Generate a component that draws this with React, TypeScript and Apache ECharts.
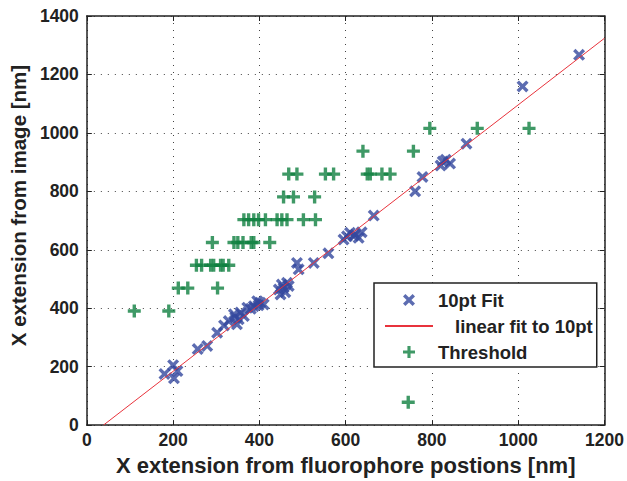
import React, { useEffect, useRef } from "react";
import * as echarts from "echarts";

// ---- Data ----
const seriesNames = ["10pt Fit", "linear fit to 10pt", "Threshold"];

// 10pt Fit (blue x markers)
const fitPtsX = [
  180, 200, 210, 202,
  257, 279,
  302, 318, 329,
  341, 344, 348, 356, 364, 352,
  372, 380, 387, 395, 402, 410, 398,
  445, 449, 452, 456, 464, 468, 460,
  487, 491,
  526, 560,
  595, 603, 610, 618, 622, 630, 637,
  665,
  761, 778,
  820, 825, 832, 842,
  880, 1010, 1141,
];
const fitPtsY = [
  175, 205, 185, 160,
  260, 271,
  316, 341, 356,
  379, 369, 345, 385, 373, 362,
  402, 398, 407, 424, 419, 413, 410,
  464, 447, 481, 470, 487, 476, 455,
  555, 533,
  555, 588,
  635, 646, 658, 648, 652, 641, 660,
  717,
  800, 849,
  888, 902, 908, 895,
  963, 1159, 1267,
];

// Threshold (green + markers)
const thrX = [
  110, 190,
  212, 234, 303,
  254, 266, 287, 294, 310, 316, 329,
  291, 341, 350, 362, 381, 387, 424,
  364, 375, 387, 398, 414, 441, 452, 464, 502, 530,
  456, 479, 528,
  468, 487, 553, 572, 650, 657, 684, 703,
  640, 757,
  795, 905, 1025,
  745,
];
const thrY = [
  390.6, 390.6,
  468.75, 468.75, 468.75,
  546.9, 546.9, 546.9, 546.9, 546.9, 546.9, 546.9,
  625, 625, 625, 625, 625, 625, 625,
  703, 703, 703, 703, 703, 703, 703, 703, 703, 703,
  781, 781, 781,
  859, 859, 859, 859, 859, 859, 859, 859,
  937.5, 937.5,
  1015.6, 1015.6, 1015.6,
  78,
];

// Linear fit parameters
const fitSlope = 1.14;
const fitIntercept = -44;

// Axes
const xMin = 0, xMax = 1200, xStep = 200;
const yMin = 0, yMax = 1400, yStep = 200;

const X_PATH = "path://M0,2L2,0L5,3L8,0L10,2L7,5L10,8L8,10L5,7L2,10L0,8L3,5Z";
const PLUS_PATH = "path://M3.7,0H6.3V3.7H10V6.3H6.3V10H3.7V6.3H0V3.7H3.7Z";

const FONT = "'Liberation Sans', Arial, Helvetica, sans-serif";
const TXT = "#222";
const BLUE = "#33479E";
const GREEN = "#0F8040";
const RED = "#E8333C";

export default function App() {
  const ref = useRef<HTMLDivElement>(null);
  useEffect(() => {
    if (!ref.current) return;
    const chart = echarts.init(ref.current, undefined, { renderer: "svg" });

    const x0 = -fitIntercept / fitSlope;
    const lineData = [
      [x0, fitSlope * x0 + fitIntercept],
      [xMax, fitSlope * xMax + fitIntercept],
    ];

    const axisLine = { show: true, onZero: false, lineStyle: { color: TXT, width: 1.5 } };
    const axisTick = { show: true, inside: true, length: 5, lineStyle: { color: TXT, width: 1 } };
    const labelStyle = {
      fontFamily: FONT, fontWeight: "bold" as const, fontSize: 17.5, color: TXT,
      formatter: (v: number) => String(v),
    };
    const splitLine = { show: true, lineStyle: { color: "#444", width: 1, type: [1, 6] } };

    chart.setOption({
      animation: false,
      grid: { left: 86, right: 22, top: 16, bottom: 55, containLabel: false },
      xAxis: [
        {
          type: "value", min: xMin, max: xMax, interval: xStep, position: "bottom",
          name: "X extension from fluorophore postions [nm]", nameLocation: "middle", nameGap: 27,
          nameTextStyle: { fontFamily: FONT, fontWeight: "bold", fontSize: 22, color: TXT },
          axisLine, axisTick, axisLabel: { ...labelStyle, margin: 6 }, splitLine,
        },
        {
          type: "value", min: xMin, max: xMax, interval: xStep, position: "top",
          axisLine, axisTick, axisLabel: { show: false }, splitLine: { show: false },
        },
      ],
      yAxis: [
        {
          type: "value", min: yMin, max: yMax, interval: yStep, position: "left",
          name: "X extension from image [nm]", nameLocation: "middle", nameGap: 56,
          nameTextStyle: { fontFamily: FONT, fontWeight: "bold", fontSize: 20.5, color: TXT, padding: [0, 0, 0, 30] },
          axisLine, axisTick, axisLabel: { ...labelStyle, margin: 8 }, splitLine,
        },
        {
          type: "value", min: yMin, max: yMax, interval: yStep, position: "right",
          axisLine, axisTick, axisLabel: { show: false }, splitLine: { show: false },
        },
      ],
      legend: {
        orient: "vertical", left: 374, top: 283,
        padding: [7, 4, 5, 10], itemGap: 6, itemWidth: 48, itemHeight: 12,
        backgroundColor: "#fff", borderColor: TXT, borderWidth: 1.5, borderRadius: 0,
        selectedMode: false,
        data: [
          { name: seriesNames[0] },
          { name: seriesNames[1], itemStyle: { opacity: 0 } },
          { name: seriesNames[2] },
        ],
        formatter: (n: string) => (n === seriesNames[1] ? `{ind|${n}}` : n),
        textStyle: {
          fontFamily: FONT, fontWeight: "bold", fontSize: 18.5, color: TXT, lineHeight: 20,
          rich: { ind: { padding: [0, 0, 0, 17], fontFamily: FONT, fontWeight: "bold", fontSize: 18.5, color: TXT, lineHeight: 20 } },
        },
      },
      series: [
        {
          name: seriesNames[0], type: "scatter", symbol: X_PATH, symbolSize: 12,
          itemStyle: { color: BLUE }, silent: true,
          data: fitPtsX.map((x, i) => [x, fitPtsY[i]]),
        },
        {
          name: seriesNames[1], type: "line", symbol: "none", showSymbol: false,
          lineStyle: { color: RED, width: 1 }, itemStyle: { color: RED }, silent: true,
          data: lineData,
        },
        {
          name: seriesNames[2], type: "scatter", symbol: PLUS_PATH, symbolSize: 13,
          itemStyle: { color: GREEN }, silent: true,
          data: thrX.map((x, i) => [x, thrY[i]]),
        },
      ],
    });
    return () => chart.dispose();
  }, []);

  return (
    <div
      ref={ref}
      style={{ position: "fixed", left: 0, top: 0, width: 627, height: 481, background: "#fff" }}
    />
  );
}
